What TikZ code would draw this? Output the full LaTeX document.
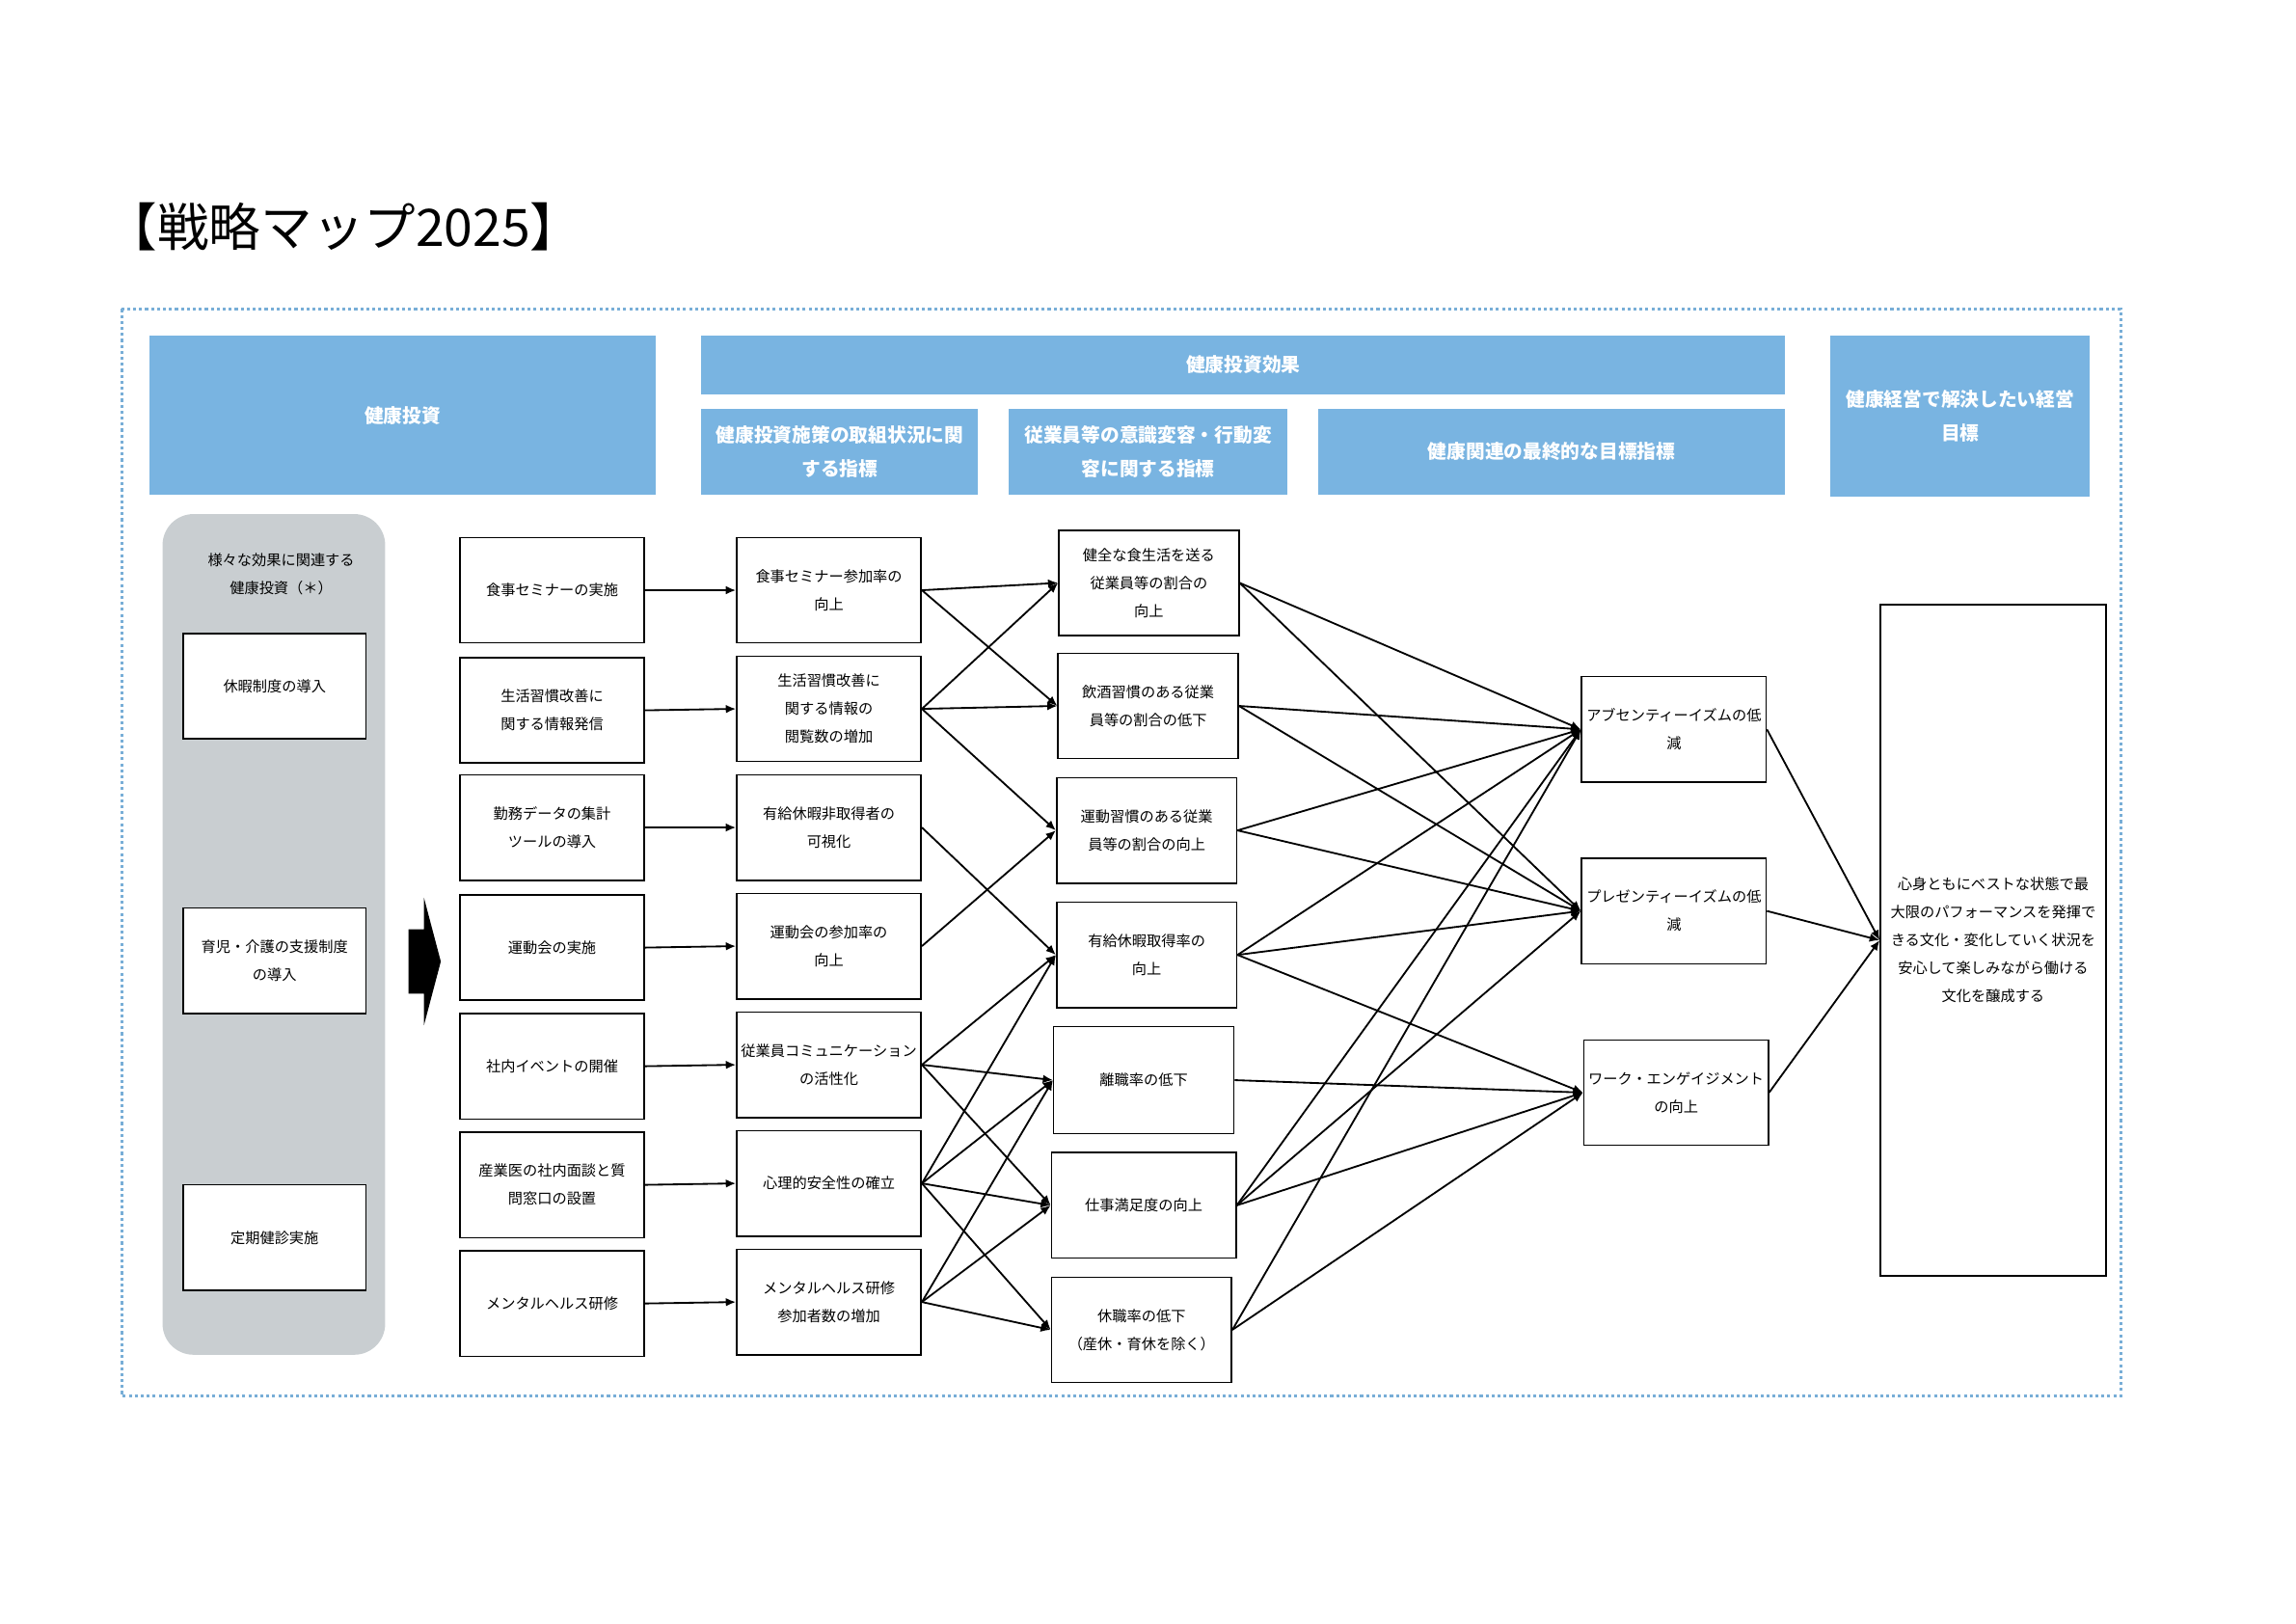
\documentclass[tikz,border=0pt]{standalone}
\usepackage{fontspec}
\setmainfont{Noto Sans CJK JP}
\usetikzlibrary{arrows.meta}
\definecolor{headblue}{RGB}{121,180,225}
\definecolor{panelgrey}{RGB}{201,206,209}
\definecolor{dotblue}{RGB}{120,174,215}
\newlength{\un}
\setlength{\un}{0.18944mm}
\newcommand{\bx}{\fontsize{5.4}{10.3}\selectfont}
\newcommand{\hd}{\bfseries\fontsize{7}{12.4}\selectfont}

\begin{document}
\begin{tikzpicture}[x=\un,y=-\un,
   >={Latex[length=1.3mm,width=1.1mm]},
   cell/.style={draw,line width=0.55pt,fill=white,align=center,inner sep=0pt,
      minimum width=126\un,minimum height=72\un,font=\bx},
   head/.style={fill=headblue,text=white,align=center,inner sep=0pt,font=\hd},
   link/.style={->,line width=0.65pt}]
   \useasboundingbox (0,0) rectangle (1567.8,1108.5);
   \node[anchor=west,inner sep=0pt] (title) at (72,155) {\fontsize{19}{22}\selectfont 【戦略マップ2025】};
   \draw[dotblue,line width=1.1pt,dash pattern=on 1.1pt off 1.1pt] (83,211) rectangle (1448,953);

   \node[head,minimum width=346\un,minimum height=109\un] (hinv) at (275,283.5) {健康投資};
   \node[head,minimum width=740\un,minimum height=40\un] (heff) at (849,249) {健康投資効果};
   \node[head,minimum width=189\un,minimum height=59\un] (hact) at (573.5,308.5) {健康投資施策の取組状況に関\\する指標};
   \node[head,minimum width=190\un,minimum height=59\un] (hbeh) at (784,308.5) {従業員等の意識変容・行動変\\容に関する指標};
   \node[head,minimum width=319\un,minimum height=59\un] (hfin) at (1059.5,308.5) {健康関連の最終的な目標指標};
   \node[head,minimum width=177\un,minimum height=110\un] (hgoal) at (1338.5,284) {健康経営で解決したい経営\\目標};

   \fill[panelgrey,rounded corners=4mm] (111,351) rectangle (263,925);
   \node[align=center,font=\bx] (ptitle) at (192,392) {様々な効果に関連する\\健康投資（＊）};
   \node[cell,minimum width=125\un] (p1) at (187.5,468.5) {休暇制度の導入};
   \node[cell,minimum width=125\un] (p2) at (187.5,656) {育児・介護の支援制度\\の導入};
   \node[cell,minimum width=125\un] (p3) at (187.5,845) {定期健診実施};
   \fill (279,634.5) -- (289.5,634.5) -- (289.5,613) -- (301,656.5) -- (289.5,700) -- (289.5,678.5) -- (279,678.5) -- cycle;

   \node[cell] (a1) at (377,403) {食事セミナーの実施};
   \node[cell] (a2) at (377,485) {生活習慣改善に\\関する情報発信};
   \node[cell] (a3) at (377,565) {勤務データの集計\\ツールの導入};
   \node[cell] (a4) at (377,647) {運動会の実施};
   \node[cell] (a5) at (377,728) {社内イベントの開催};
   \node[cell] (a6) at (377,809) {産業医の社内面談と質\\問窓口の設置};
   \node[cell] (a7) at (377,890) {メンタルヘルス研修};

   \node[cell] (b1) at (566,403) {食事セミナー参加率の\\向上};
   \node[cell] (b2) at (566,484) {生活習慣改善に\\関する情報の\\閲覧数の増加};
   \node[cell] (b3) at (566,565) {有給休暇非取得者の\\可視化};
   \node[cell] (b4) at (566,646) {運動会の参加率の\\向上};
   \node[cell] (b5) at (566,727) {従業員コミュニケーション\\の活性化};
   \node[cell] (b6) at (566,808) {心理的安全性の確立};
   \node[cell] (b7) at (566,889) {メンタルヘルス研修\\参加者数の増加};

   \node[cell,minimum width=123\un] (c1) at (784.5,398) {健全な食生活を送る\\従業員等の割合の\\向上};
   \node[cell,minimum width=123\un] (c2) at (784,482) {飲酒習慣のある従業\\員等の割合の低下};
   \node[cell,minimum width=123\un] (c3) at (783,567) {運動習慣のある従業\\員等の割合の向上};
   \node[cell,minimum width=123\un] (c4) at (783,652) {有給休暇取得率の\\向上};
   \node[cell,minimum width=123\un,minimum height=73\un] (c5) at (781,737.5) {離職率の低下};
   \node[cell,minimum width=126\un] (c6) at (781,823) {仕事満足度の向上};
   \node[cell,minimum width=123\un] (c7) at (779.5,908) {休職率の低下\\（産休・育休を除く）};

   \node[cell] (d1) at (1143,498) {アブセンティーイズムの低\\減};
   \node[cell] (d2) at (1143,622) {プレゼンティーイズムの低\\減};
   \node[cell] (d3) at (1144.5,746) {ワーク・エンゲイジメント\\の向上};

   \node[cell,minimum width=154\un,minimum height=458\un] (goal) at (1361,642) {心身ともにベストな状態で最\\大限のパフォーマンスを発揮で\\きる文化・変化していく状況を\\安心して楽しみながら働ける\\文化を醸成する};

   \draw[link] (a1.east) -- (b1.west);
   \draw[link] (a2.east) -- (b2.west);
   \draw[link] (a3.east) -- (b3.west);
   \draw[link] (a4.east) -- (b4.west);
   \draw[link] (a5.east) -- (b5.west);
   \draw[link] (a6.east) -- (b6.west);
   \draw[link] (a7.east) -- (b7.west);

   \draw[link] (b1.east) -- (c1.west);
   \draw[link] (b1.east) -- (c2.west);
   \draw[link] (b2.east) -- (c1.west);
   \draw[link] (b2.east) -- (c2.west);
   \draw[link] (b2.east) -- (c3.west);
   \draw[link] (b3.east) -- (c4.west);
   \draw[link] (b4.east) -- (c3.west);
   \draw[link] (b5.east) -- (c4.west);
   \draw[link] (b5.east) -- (c5.west);
   \draw[link] (b5.east) -- (c6.west);
   \draw[link] (b6.east) -- (c4.west);
   \draw[link] (b6.east) -- (c5.west);
   \draw[link] (b6.east) -- (c6.west);
   \draw[link] (b6.east) -- (c7.west);
   \draw[link] (b7.east) -- (c5.west);
   \draw[link] (b7.east) -- (c6.west);
   \draw[link] (b7.east) -- (c7.west);

   \draw[link] (c1.east) -- (d1.west);
   \draw[link] (c1.east) -- (d2.west);
   \draw[link] (c2.east) -- (d1.west);
   \draw[link] (c2.east) -- (d2.west);
   \draw[link] (c3.east) -- (d1.west);
   \draw[link] (c3.east) -- (d2.west);
   \draw[link] (c4.east) -- (d1.west);
   \draw[link] (c4.east) -- (d2.west);
   \draw[link] (c4.east) -- (d3.west);
   \draw[link] (c5.east) -- (d3.west);
   \draw[link] (c6.east) -- (d1.west);
   \draw[link] (c6.east) -- (d2.west);
   \draw[link] (c6.east) -- (d3.west);
   \draw[link] (c7.east) -- (d1.west);
   \draw[link] (c7.east) -- (d3.west);

   \draw[link] (d1.east) -- (goal.west);
   \draw[link] (d2.east) -- (goal.west);
   \draw[link] (d3.east) -- (goal.west);
\end{tikzpicture}
\end{document}
